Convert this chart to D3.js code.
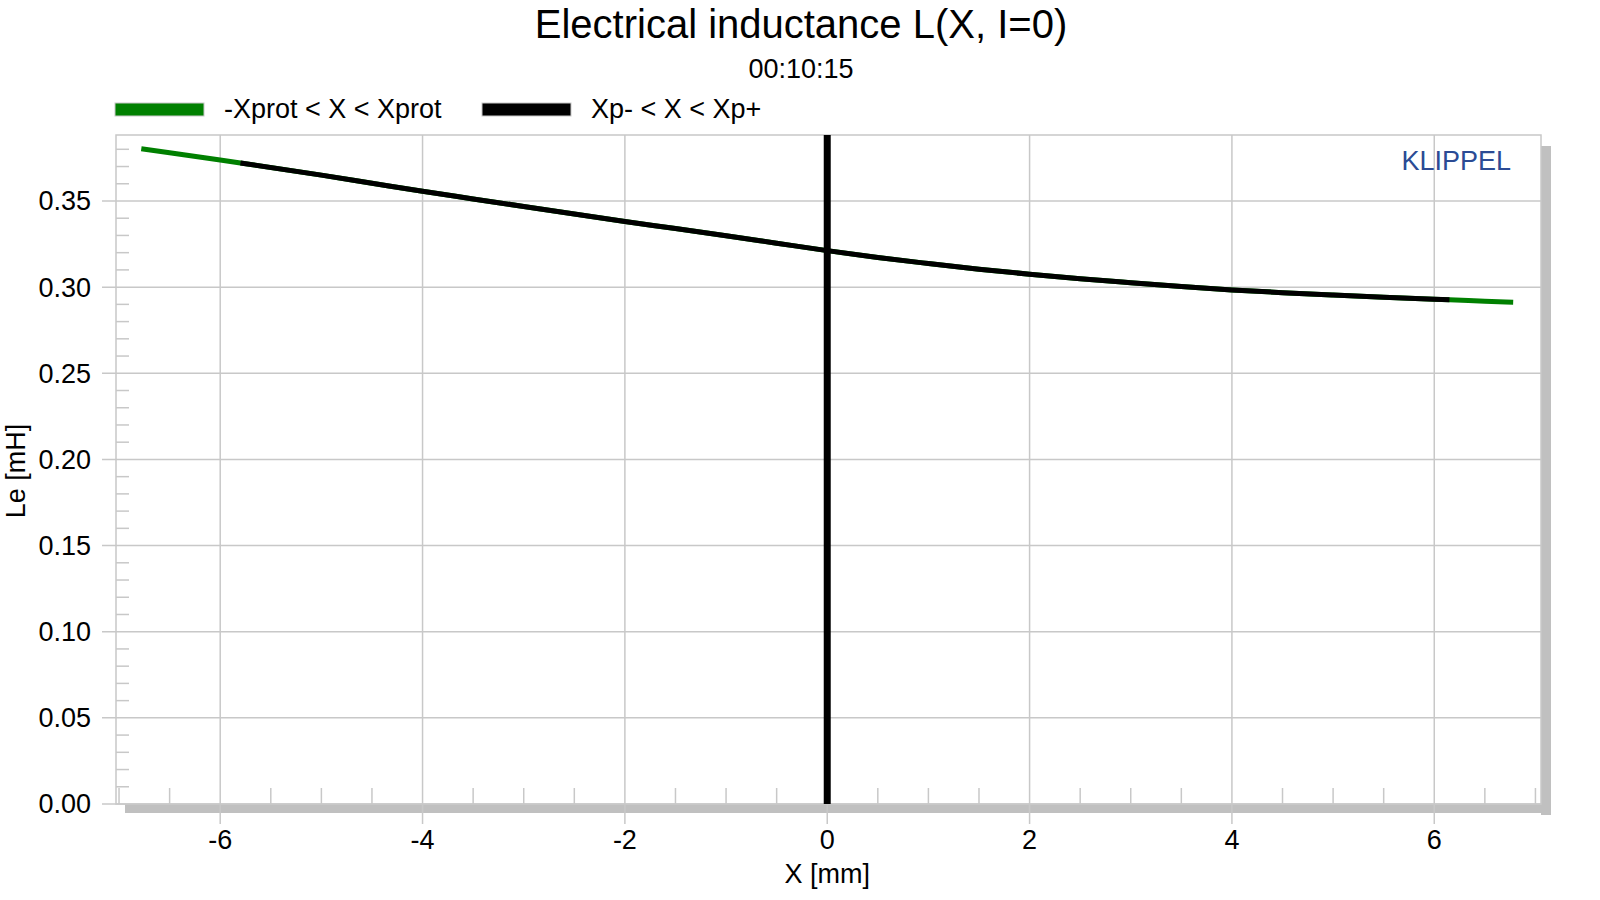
<!DOCTYPE html>
<html>
<head>
<meta charset="utf-8">
<script src="https://cdn.jsdelivr.net/npm/d3@7"></script>
<style>
  body { margin: 0; background: #fff; }
  text { font-family: "Liberation Sans", Arial, sans-serif; }
</style>
</head>
<body>
<svg id="chart" width="1600" height="900"></svg>
<script>
// Data
const xValues  = [-6.78, -6.5, -6.0, -5.8, -5.0, -4.5, -4.0, -3.5, -3.0, -2.5, -2.0, -1.5, -1.0, -0.5, 0.0,
                  0.5, 1.0, 1.5, 2.0, 2.5, 3.0, 3.5, 4.0, 4.5, 5.0, 5.5, 6.0, 6.15, 6.5, 6.78];
const leValues = [0.3803, 0.3780, 0.3738, 0.3721, 0.3650, 0.3603, 0.3556, 0.3512, 0.3468, 0.3424, 0.3381, 0.3340, 0.3298, 0.3255, 0.3212,
                  0.3172, 0.3137, 0.3104, 0.3075, 0.3049, 0.3026, 0.3004, 0.2984, 0.2968, 0.2954, 0.2941, 0.2930, 0.2927, 0.2918, 0.2912];
const xpMinus = -5.8, xpPlus = 6.15;   // black range Xp- < X < Xp+
const xTickLabels = [-6, -4, -2, 0, 2, 4, 6];
const yTickLabels = [0, 0.05, 0.10, 0.15, 0.20, 0.25, 0.30, 0.35];
const legendLabels = ['-Xprot < X < Xprot', 'Xp- < X < Xp+'];
const seriesColors = ['#008000', '#000000'];

// Layout
const plotL = 116, plotR = 1541, plotT = 135, plotB = 804;
const gridColor = '#c8c8c8';

const svg = d3.select('#chart');

const x = d3.scaleLinear().domain([-7.03, 7.055]).range([plotL, plotR]);
const y = d3.scaleLinear().domain([0, 0.3883]).range([plotB, plotT]);

// Shadow
svg.append('rect').attr('x', plotL + 9).attr('y', plotB).attr('width', plotR - plotL + 1).attr('height', 9).attr('fill', '#c0c0c0');
svg.append('rect').attr('x', plotR).attr('y', plotT + 11).attr('width', 10).attr('height', plotB - plotT).attr('fill', '#c0c0c0');

// Plot background
svg.append('rect').attr('x', plotL).attr('y', plotT).attr('width', plotR - plotL).attr('height', plotB - plotT)
   .attr('fill', '#fff').attr('stroke', gridColor).attr('stroke-width', 1.5);

// Grid lines
svg.append('g').selectAll('line').data(xTickLabels).join('line')
   .attr('x1', d => x(d)).attr('x2', d => x(d)).attr('y1', plotT).attr('y2', plotB + 20)
   .attr('stroke', gridColor).attr('stroke-width', 1.5);
svg.append('g').selectAll('line').data(yTickLabels).join('line')
   .attr('x1', plotL - 14).attr('x2', plotR).attr('y1', d => y(d)).attr('y2', d => y(d))
   .attr('stroke', gridColor).attr('stroke-width', 1.5);

// Minor ticks
const xMinor = d3.range(-14, 15).map(i => i / 2).filter(d => d % 2 !== 0);
svg.append('g').selectAll('line').data(xMinor).join('line')
   .attr('x1', d => x(d)).attr('x2', d => x(d)).attr('y1', plotB).attr('y2', plotB - 16)
   .attr('stroke', gridColor).attr('stroke-width', 1.5);
const yMinor = d3.range(1, 39).filter(i => i % 5 !== 0).map(i => i / 100);
svg.append('g').selectAll('line').data(yMinor).join('line')
   .attr('x1', plotL).attr('x2', plotL + 13).attr('y1', d => y(d)).attr('y2', d => y(d))
   .attr('stroke', gridColor).attr('stroke-width', 1.5);

// Tick labels
svg.append('g').selectAll('text').data(yTickLabels).join('text')
   .attr('x', 91).attr('y', d => y(d)).attr('dy', '0.35em')
   .attr('text-anchor', 'end').attr('font-size', 27).text(d => d3.format('.2f')(d));
svg.append('g').selectAll('text').data(xTickLabels).join('text')
   .attr('x', d => x(d)).attr('y', 849)
   .attr('text-anchor', 'middle').attr('font-size', 27).text(d => d);

// Axis titles
svg.append('text').attr('x', x(0)).attr('y', 883).attr('text-anchor', 'middle').attr('font-size', 27).text('X [mm]');
svg.append('text').attr('transform', 'translate(25,471) rotate(-90)').attr('text-anchor', 'middle')
   .attr('font-size', 27).text('Le [mH]');

// Curves
const pts = xValues.map((d, i) => ({ x: d, v: leValues[i] }));
const line = d3.line().x(d => x(d.x)).y(d => y(d.v)).curve(d3.curveMonotoneX);
svg.append('path').datum(pts).attr('d', line)
   .attr('fill', 'none').attr('stroke', seriesColors[0]).attr('stroke-width', 5);
svg.append('path').datum(pts.filter(d => d.x >= xpMinus && d.x <= xpPlus)).attr('d', line)
   .attr('fill', 'none').attr('stroke', seriesColors[1]).attr('stroke-width', 5);

// Vertical line at X = 0
svg.append('line').attr('x1', x(0)).attr('x2', x(0)).attr('y1', plotT).attr('y2', plotB)
   .attr('stroke', '#000').attr('stroke-width', 7);

// KLIPPEL
svg.append('text').attr('x', 1511).attr('y', 170).attr('text-anchor', 'end')
   .attr('font-size', 27).attr('fill', '#2b4b94').text('KLIPPEL');

// Title
svg.append('text').attr('x', 801).attr('y', 38).attr('text-anchor', 'middle').attr('font-size', 40)
   .text('Electrical inductance L(X, I=0)');
svg.append('text').attr('x', 801).attr('y', 78).attr('text-anchor', 'middle').attr('font-size', 27)
   .text('00:10:15');

// Legend
const legendX = [115, 482];
const lg = svg.append('g').selectAll('g').data(legendLabels).join('g')
   .attr('transform', (d, i) => `translate(${legendX[i]},0)`);
lg.append('rect').attr('x', 0).attr('y', 103).attr('width', 89).attr('height', 13)
   .attr('fill', (d, i) => seriesColors[i]).attr('stroke', gridColor).attr('stroke-width', 1);
lg.append('text').attr('x', 109).attr('y', 118).attr('font-size', 27).text(d => d);
</script>
</body>
</html>
